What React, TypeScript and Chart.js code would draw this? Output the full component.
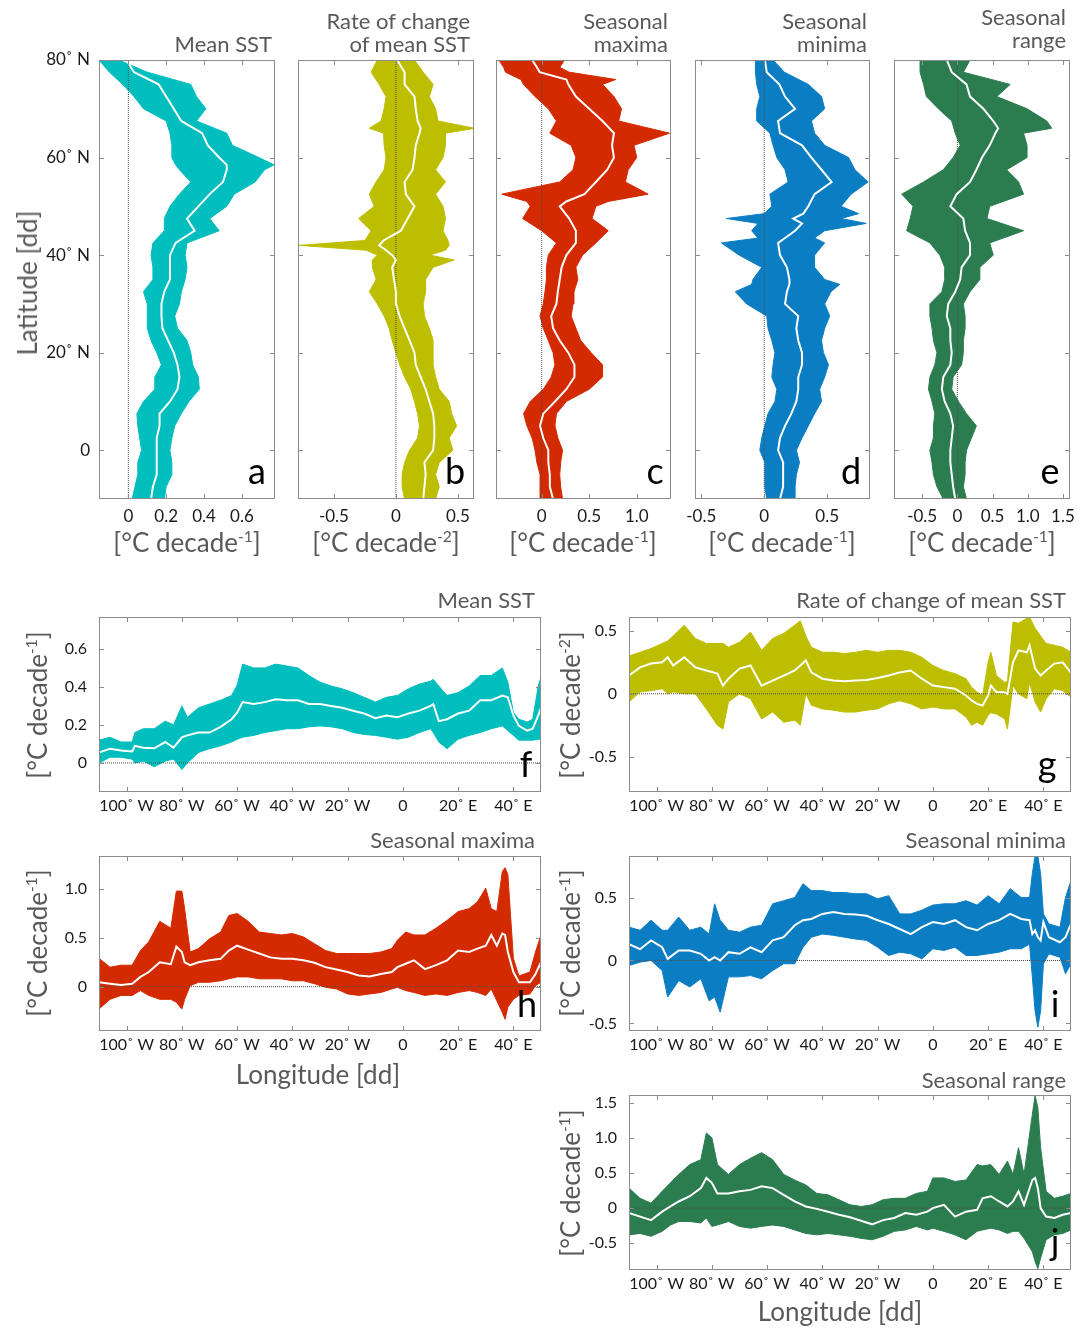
import React, { useEffect, useRef } from "react";
import { Chart, registerables } from "chart.js";
Chart.register(...registerables);

const FONT = "Lato, 'Open Sans', sans-serif";

// ---------- Top row: latitude profiles (value vs latitude) ----------
const latA = [-10, -7.5, -5, -2.5, 0, 2.5, 5, 7.5, 10, 12.5, 15, 17.5, 20, 22.5, 25, 27.5, 30, 32.5, 35, 37.5, 40, 42.5, 45, 47.5, 50, 52.5, 55, 57.5, 58.5, 60, 62.5, 65, 67.5, 70, 72.5, 75, 77.5, 80];
const lowA = [0.02, 0.035, 0.05, 0.05, 0.07, 0.06, 0.05, 0.045, 0.08, 0.14, 0.14, 0.175, 0.15, 0.12, 0.1, 0.1, 0.1, 0.08, 0.13, 0.13, 0.12, 0.13, 0.19, 0.19, 0.22, 0.27, 0.33, 0.27, 0.25, 0.23, 0.23, 0.22, 0.2, 0.08, 0.03, -0.03, -0.1, -0.155];
const medA = [0.12, 0.13, 0.15, 0.15, 0.15, 0.15, 0.165, 0.165, 0.22, 0.26, 0.27, 0.26, 0.24, 0.21, 0.18, 0.175, 0.175, 0.19, 0.22, 0.22, 0.22, 0.25, 0.35, 0.31, 0.37, 0.43, 0.5, 0.52, 0.52, 0.48, 0.42, 0.39, 0.28, 0.24, 0.2, 0.16, 0.03, -0.01];
const upA = [0.19, 0.2, 0.23, 0.23, 0.22, 0.23, 0.245, 0.28, 0.32, 0.375, 0.37, 0.34, 0.33, 0.31, 0.26, 0.245, 0.27, 0.28, 0.3, 0.31, 0.3, 0.31, 0.48, 0.43, 0.52, 0.56, 0.67, 0.72, 0.77, 0.69, 0.55, 0.52, 0.36, 0.41, 0.36, 0.33, 0.1, -0.05];

const latB = [-10, -7.5, -5, -2.5, 0, 2.5, 5, 7.5, 10, 12.5, 15, 17.5, 20, 22.5, 25, 27.5, 30, 32.5, 35, 37.5, 39, 40, 41, 42, 43, 45, 47.5, 50, 52.5, 55, 57.5, 60, 62.5, 65, 66, 67.5, 70, 72.5, 75, 77.5, 80];
const lowB = [0.07, 0.05, 0.05, 0.07, 0.11, 0.175, 0.19, 0.175, 0.15, 0.12, 0.07, 0.03, 0.0, -0.03, -0.055, -0.095, -0.15, -0.215, -0.16, -0.19, -0.19, -0.15, -0.24, -0.78, -0.25, -0.2, -0.3, -0.175, -0.215, -0.16, -0.095, -0.08, -0.095, -0.1, -0.215, -0.12, -0.095, -0.08, -0.135, -0.2, -0.15];
const medB = [0.22, 0.23, 0.24, 0.23, 0.3, 0.31, 0.31, 0.3, 0.27, 0.24, 0.2, 0.16, 0.15, 0.11, 0.07, 0.03, 0.0, 0.0, -0.015, -0.03, 0.0, -0.03, -0.08, -0.135, -0.1, 0.04, 0.095, 0.15, 0.08, 0.07, 0.135, 0.15, 0.16, 0.19, 0.2, 0.175, 0.16, 0.15, 0.07, 0.07, 0.01];
const upB = [0.32, 0.35, 0.32, 0.35, 0.46, 0.43, 0.49, 0.45, 0.43, 0.35, 0.32, 0.3, 0.3, 0.3, 0.27, 0.23, 0.22, 0.24, 0.24, 0.3, 0.47, 0.27, 0.4, 0.43, 0.42, 0.38, 0.4, 0.38, 0.32, 0.4, 0.32, 0.38, 0.4, 0.4, 0.635, 0.34, 0.32, 0.27, 0.3, 0.22, 0.15];

const latC = [-10, -7.5, -5, -2.5, 0, 2.5, 5, 7.5, 10, 12.5, 15, 17.5, 20, 22.5, 25, 27.5, 30, 32.5, 35, 37.5, 40, 42.5, 45, 47.5, 50, 51, 52.5, 55, 57.5, 60, 62.5, 65, 67.5, 70, 72.5, 75, 76, 77.5, 78.5, 80];
const lowC = [-0.017, -0.017, -0.017, -0.05, -0.07, -0.1, -0.155, -0.19, -0.12, 0.017, 0.1, 0.14, 0.12, 0.07, 0.017, -0.017, 0.017, 0.035, 0.05, 0.05, 0.07, 0.155, 0.0, -0.2, -0.12, -0.155, -0.42, 0.19, 0.33, 0.36, 0.31, 0.086, 0.155, 0.07, -0.07, -0.19, -0.22, -0.38, -0.4, -0.45];
const medC = [0.12, 0.086, 0.086, 0.07, 0.07, 0.017, -0.017, 0.017, 0.14, 0.26, 0.345, 0.345, 0.28, 0.19, 0.12, 0.1, 0.155, 0.17, 0.19, 0.21, 0.26, 0.36, 0.36, 0.29, 0.19, 0.26, 0.45, 0.57, 0.69, 0.76, 0.74, 0.76, 0.64, 0.5, 0.36, 0.28, 0.26, -0.02, -0.05, -0.1];
const upC = [0.22, 0.2, 0.19, 0.2, 0.22, 0.17, 0.14, 0.155, 0.26, 0.5, 0.64, 0.64, 0.52, 0.41, 0.36, 0.31, 0.33, 0.34, 0.38, 0.36, 0.43, 0.57, 0.7, 0.53, 0.57, 0.7, 1.12, 0.88, 0.91, 1.0, 0.97, 1.345, 0.81, 0.84, 0.76, 0.64, 0.78, 0.29, 0.19, 0.24];

const latD = [-10, -7.5, -5, -2.5, 0, 2.5, 5, 7.5, 10, 12.5, 15, 17.5, 20, 22.5, 25, 27.5, 30, 32.5, 34, 35, 37.5, 40, 42.5, 43.5, 45, 46.5, 47.5, 48.5, 50, 52.5, 55, 57.5, 60, 62.5, 65, 67.5, 70, 72.5, 75, 77.5, 80];
const lowD = [0.02, 0.005, 0.005, 0.005, -0.035, -0.02, 0.005, 0.03, 0.085, 0.1, 0.06, 0.07, 0.085, 0.06, 0.03, 0.02, -0.14, -0.23, -0.1, -0.09, -0.02, -0.2, -0.34, -0.05, -0.1, -0.05, -0.3, 0.0, 0.06, 0.045, 0.19, 0.165, 0.1, 0.07, 0.045, -0.06, -0.06, -0.035, -0.06, -0.07, -0.07];
const medD = [0.125, 0.15, 0.15, 0.15, 0.11, 0.125, 0.165, 0.215, 0.255, 0.27, 0.27, 0.3, 0.3, 0.27, 0.255, 0.27, 0.165, 0.18, 0.2, 0.2, 0.18, 0.125, 0.11, 0.165, 0.245, 0.3, 0.23, 0.31, 0.35, 0.4, 0.535, 0.455, 0.375, 0.3, 0.125, 0.11, 0.245, 0.165, 0.12, 0.02, 0.005];
const upD = [0.245, 0.245, 0.255, 0.28, 0.255, 0.3, 0.35, 0.4, 0.455, 0.44, 0.48, 0.51, 0.47, 0.455, 0.48, 0.52, 0.48, 0.53, 0.6, 0.48, 0.4, 0.4, 0.48, 0.4, 0.48, 0.81, 0.61, 0.75, 0.61, 0.69, 0.825, 0.72, 0.67, 0.48, 0.4, 0.375, 0.48, 0.455, 0.35, 0.16, 0.07];

const latE = [-10, -7.5, -5, -2.5, 0, 2.5, 5, 7.5, 10, 12.5, 15, 17.5, 20, 22.5, 25, 27.5, 30, 32.5, 35, 37.5, 40, 42.5, 45, 47.5, 50, 52.5, 55, 57.5, 60, 62.5, 65, 66, 67.5, 70, 72.5, 75, 77.5, 80];
const lowE = [-0.2, -0.29, -0.34, -0.36, -0.39, -0.34, -0.34, -0.32, -0.36, -0.41, -0.39, -0.32, -0.29, -0.34, -0.36, -0.39, -0.39, -0.22, -0.18, -0.18, -0.25, -0.39, -0.72, -0.67, -0.63, -0.79, -0.48, -0.2, -0.06, 0.04, -0.03, -0.05, -0.08, -0.27, -0.44, -0.48, -0.53, -0.53];
const medE = [-0.03, -0.06, -0.08, -0.1, -0.1, -0.08, -0.06, -0.1, -0.18, -0.22, -0.2, -0.1, -0.08, -0.1, -0.1, -0.15, -0.13, -0.03, 0.04, 0.06, 0.18, 0.18, 0.11, 0.085, -0.1, -0.01, 0.18, 0.27, 0.35, 0.46, 0.54, 0.58, 0.51, 0.37, 0.18, 0.13, -0.08, -0.15];
const upE = [0.13, 0.085, 0.11, 0.11, 0.13, 0.2, 0.27, 0.13, 0.015, -0.08, -0.06, 0.06, 0.085, 0.085, 0.11, 0.11, 0.085, 0.18, 0.32, 0.32, 0.51, 0.46, 0.94, 0.42, 0.46, 0.94, 0.87, 0.7, 0.99, 0.99, 0.94, 1.34, 1.27, 0.99, 0.56, 0.75, 0.085, 0.18];

// ---------- Bottom: longitude profiles (value vs longitude) ----------
const lonF = [-110, -106, -102, -98, -97, -94, -90, -86, -83, -80, -78, -74, -70, -66, -62, -60, -58, -54, -50, -46, -42, -38, -34, -30, -26, -22, -18, -14, -10, -6, -2, 2, 6, 10, 11, 13, 16, 20, 24, 28, 32, 36, 38, 40, 42, 45, 47, 49, 50];
const lowF = [0, 0.03, 0.03, 0.02, 0.0, 0.01, -0.02, 0.01, 0.02, -0.035, 0.0, 0.055, 0.075, 0.09, 0.11, 0.125, 0.135, 0.145, 0.16, 0.17, 0.18, 0.18, 0.19, 0.195, 0.19, 0.18, 0.16, 0.15, 0.145, 0.135, 0.125, 0.135, 0.16, 0.18, 0.16, 0.11, 0.075, 0.125, 0.145, 0.16, 0.18, 0.195, 0.17, 0.145, 0.12, 0.12, 0.12, 0.125, 0.125];
const medF = [0.055, 0.075, 0.065, 0.06, 0.09, 0.08, 0.077, 0.11, 0.08, 0.135, 0.145, 0.16, 0.16, 0.19, 0.23, 0.265, 0.32, 0.31, 0.32, 0.335, 0.33, 0.33, 0.31, 0.31, 0.3, 0.29, 0.275, 0.26, 0.235, 0.25, 0.24, 0.26, 0.275, 0.3, 0.31, 0.22, 0.23, 0.26, 0.275, 0.33, 0.33, 0.355, 0.345, 0.25, 0.195, 0.17, 0.18, 0.25, 0.29];
const upF = [0.12, 0.135, 0.11, 0.11, 0.16, 0.18, 0.18, 0.22, 0.2, 0.3, 0.24, 0.29, 0.31, 0.33, 0.355, 0.41, 0.52, 0.5, 0.5, 0.52, 0.51, 0.5, 0.46, 0.425, 0.405, 0.39, 0.37, 0.345, 0.32, 0.345, 0.355, 0.39, 0.415, 0.43, 0.44, 0.405, 0.355, 0.37, 0.405, 0.46, 0.46, 0.5, 0.425, 0.265, 0.23, 0.215, 0.23, 0.405, 0.45];

const lonG = [-110, -106, -102, -98, -96, -94, -90, -86, -82, -78, -76, -74, -70, -66, -62, -58, -54, -50, -48, -46, -44, -40, -36, -32, -28, -24, -20, -16, -12, -8, -4, 0, 4, 8, 12, 14, 16, 18, 20, 21, 23, 26, 27, 29, 31, 34, 35, 37, 39, 41, 44, 47, 50];
const lowG = [-0.065, 0.015, 0.025, 0.04, 0.0, 0.015, 0, 0, -0.12, -0.25, -0.28, -0.065, 0, -0.04, -0.2, -0.145, -0.225, -0.21, -0.25, 0, -0.09, -0.12, -0.13, -0.145, -0.145, -0.13, -0.12, -0.08, -0.055, -0.08, -0.12, -0.105, -0.12, -0.12, -0.185, -0.25, -0.225, -0.25, -0.17, -0.15, -0.16, -0.2, -0.28, 0.065, 0, -0.04, 0.09, -0.065, -0.145, -0.04, 0.04, 0.025, -0.027];
const medG = [0.145, 0.21, 0.24, 0.25, 0.29, 0.225, 0.29, 0.21, 0.185, 0.16, 0.065, 0.12, 0.2, 0.225, 0.065, 0.105, 0.145, 0.185, 0.225, 0.265, 0.17, 0.12, 0.105, 0.1, 0.105, 0.11, 0.125, 0.145, 0.17, 0.185, 0.12, 0.065, 0.053, 0.04, -0.013, -0.053, -0.08, -0.093, -0.013, 0.065, 0.013, 0.013, 0.0, 0.25, 0.345, 0.33, 0.385, 0.2, 0.145, 0.185, 0.24, 0.25, 0.167];
const upG = [0.3, 0.33, 0.36, 0.4, 0.42, 0.46, 0.545, 0.44, 0.4, 0.4, 0.4, 0.37, 0.41, 0.49, 0.345, 0.44, 0.48, 0.545, 0.58, 0.46, 0.37, 0.33, 0.33, 0.32, 0.33, 0.345, 0.33, 0.345, 0.345, 0.33, 0.29, 0.225, 0.185, 0.16, 0.12, 0.053, 0.013, -0.013, 0.25, 0.33, 0.145, 0.09, 0.1, 0.57, 0.56, 0.6, 0.61, 0.52, 0.46, 0.4, 0.385, 0.37, 0.33];

const lonH = [-110, -106, -102, -98, -95, -92, -88, -84, -82, -80, -79, -77, -74, -70, -66, -63, -60, -56, -52, -48, -44, -40, -36, -32, -28, -24, -20, -16, -12, -8, -4, -2, 1, 4, 8, 12, 16, 20, 24, 27, 30, 32, 34, 36, 37, 38, 40, 42, 46, 48, 50];
const lowH = [-0.23, -0.13, -0.09, -0.09, -0.04, -0.09, -0.13, -0.13, -0.16, -0.23, -0.13, 0.01, 0.045, 0.045, 0.06, 0.08, 0.1, 0.1, 0.08, 0.08, 0.08, 0.06, 0.06, 0.03, -0.007, -0.024, -0.075, -0.09, -0.075, -0.06, -0.024, -0.007, -0.04, -0.06, -0.09, -0.075, -0.09, -0.06, -0.04, -0.06, -0.09, -0.024, -0.145, -0.265, -0.335, -0.21, -0.13, -0.09, -0.075, 0.01, 0.045];
const medH = [0.045, 0.03, 0.017, 0.03, 0.1, 0.15, 0.25, 0.23, 0.41, 0.355, 0.25, 0.22, 0.25, 0.27, 0.285, 0.37, 0.42, 0.38, 0.34, 0.3, 0.285, 0.285, 0.27, 0.245, 0.2, 0.175, 0.15, 0.115, 0.105, 0.13, 0.15, 0.2, 0.235, 0.27, 0.18, 0.22, 0.27, 0.37, 0.355, 0.39, 0.42, 0.53, 0.42, 0.545, 0.53, 0.355, 0.15, 0.045, 0.045, 0.13, 0.25];
const upH = [0.29, 0.2, 0.22, 0.22, 0.37, 0.46, 0.67, 0.6, 0.98, 0.98, 0.8, 0.355, 0.39, 0.49, 0.56, 0.73, 0.75, 0.67, 0.56, 0.545, 0.53, 0.545, 0.51, 0.44, 0.37, 0.34, 0.34, 0.34, 0.34, 0.355, 0.39, 0.475, 0.56, 0.53, 0.53, 0.6, 0.68, 0.77, 0.8, 0.87, 1.01, 0.8, 0.77, 1.18, 1.22, 1.15, 0.29, 0.11, 0.15, 0.355, 0.53];

const lonI = [-110, -106, -102, -98, -96, -92, -88, -84, -81, -79, -77, -74, -70, -66, -62, -58, -54, -50, -47, -44, -40, -36, -32, -28, -24, -20, -16, -12, -8, -4, 0, 4, 8, 12, 16, 20, 24, 28, 32, 35, 36, 37, 38, 39, 40, 42, 46, 48, 50];
const lowI = [-0.04, -0.013, 0, -0.08, -0.29, -0.16, -0.21, -0.145, -0.32, -0.29, -0.41, -0.13, -0.13, -0.12, -0.145, -0.08, -0.026, -0.026, 0.105, 0.185, 0.21, 0.2, 0.185, 0.17, 0.16, 0.105, 0.04, 0.066, 0.053, 0.013, 0.093, 0.08, 0.105, 0.04, 0.04, 0.053, 0.066, 0.093, 0.093, 0.13, -0.13, -0.4, -0.53, -0.4, -0.026, 0.053, 0.026, -0.105, -0.026];
const medI = [0.13, 0.09, 0.16, 0.105, 0.013, 0.08, 0.08, 0.053, 0, 0.026, 0, 0.066, 0.053, 0.105, 0.066, 0.16, 0.185, 0.28, 0.32, 0.33, 0.37, 0.385, 0.37, 0.365, 0.355, 0.32, 0.29, 0.25, 0.21, 0.265, 0.305, 0.29, 0.32, 0.265, 0.24, 0.29, 0.32, 0.37, 0.33, 0.32, 0.21, 0.24, 0.185, 0.16, 0.305, 0.185, 0.145, 0.185, 0.29];
const upI = [0.265, 0.24, 0.32, 0.24, 0.24, 0.345, 0.24, 0.265, 0.21, 0.45, 0.32, 0.24, 0.225, 0.265, 0.28, 0.45, 0.475, 0.5, 0.61, 0.555, 0.555, 0.54, 0.54, 0.53, 0.53, 0.49, 0.515, 0.37, 0.37, 0.4, 0.44, 0.45, 0.45, 0.475, 0.44, 0.515, 0.45, 0.57, 0.5, 0.5, 0.69, 0.83, 0.83, 0.69, 0.37, 0.29, 0.265, 0.5, 0.635];

const lonJ = [-110, -106, -102, -98, -95, -92, -88, -84, -82, -80, -78, -74, -70, -66, -62, -58, -54, -50, -46, -42, -38, -34, -30, -26, -22, -18, -14, -10, -6, -2, 0, 4, 8, 12, 16, 18, 21, 24, 27, 29, 31, 33, 36, 37, 38, 39, 41, 44, 47, 50];
const lowJ = [-0.38, -0.36, -0.4, -0.33, -0.24, -0.19, -0.19, -0.21, -0.14, -0.26, -0.24, -0.19, -0.26, -0.285, -0.26, -0.24, -0.26, -0.31, -0.36, -0.38, -0.36, -0.38, -0.4, -0.43, -0.45, -0.4, -0.33, -0.31, -0.26, -0.31, -0.285, -0.33, -0.38, -0.45, -0.33, -0.31, -0.285, -0.31, -0.36, -0.33, -0.33, -0.43, -0.62, -0.76, -0.86, -0.71, -0.45, -0.38, -0.36, -0.31];
const medJ = [-0.07, -0.12, -0.17, -0.05, 0.024, 0.095, 0.17, 0.285, 0.43, 0.36, 0.21, 0.21, 0.24, 0.26, 0.31, 0.285, 0.19, 0.095, 0.024, -0.01, -0.05, -0.095, -0.13, -0.18, -0.23, -0.17, -0.14, -0.07, -0.095, -0.05, 0, 0.048, -0.12, -0.05, -0.024, 0.14, 0.17, 0.095, 0.024, 0.095, 0.24, 0.048, 0.4, 0.43, 0.285, 0, -0.12, -0.14, -0.095, -0.07];
const upJ = [0.285, 0.14, 0.07, 0.24, 0.36, 0.48, 0.62, 0.69, 1.07, 1.0, 0.62, 0.48, 0.62, 0.71, 0.79, 0.69, 0.48, 0.4, 0.33, 0.21, 0.19, 0.12, 0.048, 0.024, 0.048, 0.12, 0.14, 0.14, 0.21, 0.24, 0.43, 0.43, 0.38, 0.4, 0.62, 0.6, 0.62, 0.48, 0.67, 0.48, 0.86, 0.48, 1.33, 1.6, 1.43, 0.86, 0.24, 0.14, 0.17, 0.21];

// ---------- Tick values / labels ----------
const latTicks = [0, 20, 40, 60, 80];
const latTickLabels = ["0", "20˚ N", "40˚ N", "60˚ N", "80˚ N"];
const lonTicks = [-100, -80, -60, -40, -20, 0, 20, 40];
const lonTickLabels = ["100˚ W", "80˚ W", "60˚ W", "40˚ W", "20˚ W", "0", "20˚ E", "40˚ E"];
const ticksA = [0, 0.2, 0.4, 0.6];
const labelsA = ["0", "0.2", "0.4", "0.6"];
const ticksHalf = [-0.5, 0, 0.5];
const labelsHalf = ["-0.5", "0", "0.5"];
const ticksC = [0, 0.5, 1.0];
const labelsC = ["0", "0.5", "1.0"];
const ticksE = [-0.5, 0, 0.5, 1.0, 1.5];
const labelsE = ["-0.5", "0", "0.5", "1.0", "1.5"];

const CYAN = "#00BEBE";
const OLIVE = "#BEBE00";
const RED = "#D42A00";
const BLUE = "#0B7DC3";
const GREEN = "#2B7D50";

const PADT = 14;
const PADR = 16;
const BOTTOM_H = 34;

const framePlugin = {
  id: "frameTicks",
  afterDatasetsDraw(chart: any) {
    const { ctx, chartArea: a, scales } = chart;
    ctx.save();
    ctx.strokeStyle = "#8c8c8c";
    ctx.lineWidth = 1;
    ctx.strokeRect(Math.round(a.left) + 0.5, Math.round(a.top) + 0.5, Math.round(a.right - a.left) - 1, Math.round(a.bottom - a.top) - 1);
    const L = 5;
    ctx.beginPath();
    scales.x.ticks.forEach((t: any) => {
      const px = Math.round(scales.x.getPixelForValue(t.value)) + 0.5;
      ctx.moveTo(px, a.bottom); ctx.lineTo(px, a.bottom - L);
      ctx.moveTo(px, a.top); ctx.lineTo(px, a.top + L);
    });
    scales.y.ticks.forEach((t: any) => {
      const py = Math.round(scales.y.getPixelForValue(t.value)) + 0.5;
      ctx.moveTo(a.left, py); ctx.lineTo(a.left + L, py);
      ctx.moveTo(a.right, py); ctx.lineTo(a.right - L, py);
    });
    ctx.stroke();
    ctx.restore();
  },
};

function scaleCfg(min: number, max: number, ticks: number[], labels: string[] | null, isX: boolean, size: number, pad: number, fontSize: number) {
  return {
    type: "linear",
    min,
    max,
    afterBuildTicks: (s: any) => {
      s.ticks = ticks.map((v) => ({ value: v }));
    },
    afterFit: (s: any) => {
      if (isX) {
        s.height = size;
        s.paddingLeft = 0;
        s.paddingRight = 0;
      } else {
        s.width = size;
        s.paddingTop = 0;
        s.paddingBottom = 0;
      }
    },
    grid: { display: false, drawTicks: false },
    border: { display: false },
    ticks: {
      display: labels !== null,
      autoSkip: false,
      maxRotation: 0,
      minRotation: 0,
      padding: pad,
      color: "#1a1a1a",
      font: { family: FONT, size: fontSize },
      callback: (_v: any, i: number) => (labels ? labels[i] : ""),
    },
  };
}

type PanelProps = {
  frame: number[];
  vertical: boolean;
  pos: number[];
  low: number[];
  med: number[];
  up: number[];
  color: string;
  xMin: number; xMax: number; yMin: number; yMax: number;
  xTicks: number[]; xLabels: string[] | null;
  yTicks: number[]; yLabels: string[] | null;
  leftW: number;
  xPad: number; yPad: number; fontSize: number;
};

function Panel(p: PanelProps) {
  const ref = useRef<HTMLCanvasElement | null>(null);
  const [fl, ft, fw, fh] = p.frame;
  const cw = p.leftW + fw + PADR;
  const ch = PADT + fh + BOTTOM_H;
  useEffect(() => {
    const pts = (vals: number[]) => vals.map((v, i) => (p.vertical ? { x: v, y: p.pos[i] } : { x: p.pos[i], y: v }));
    const zero = p.vertical
      ? [{ x: 0, y: p.yMin }, { x: 0, y: p.yMax }]
      : [{ x: p.xMin, y: 0 }, { x: p.xMax, y: 0 }];
    const chart = new Chart(ref.current as HTMLCanvasElement, {
      type: "line",
      data: {
        datasets: [
          { data: pts(p.low), borderColor: p.color, backgroundColor: p.color, borderWidth: 1, pointRadius: 0, fill: false, order: 3, tension: 0 },
          { data: pts(p.up), borderColor: p.color, backgroundColor: p.color, borderWidth: 1, pointRadius: 0, fill: "-1", order: 2, tension: 0 },
          { data: zero, borderColor: "#4d4d4d", borderWidth: 1, borderDash: [1, 1], pointRadius: 0, fill: false, order: 1 },
          { data: pts(p.med), borderColor: "#ffffff", borderWidth: 2, pointRadius: 0, fill: false, order: 0, tension: 0 },
        ],
      } as any,
      options: {
        indexAxis: p.vertical ? "y" : "x",
        animation: false,
        responsive: false,
        maintainAspectRatio: false,
        events: [],
        layout: { padding: { top: PADT, right: PADR, left: 0, bottom: 0 } },
        plugins: {
          legend: { display: false },
          tooltip: { enabled: false },
          filler: { drawTime: "beforeDatasetsDraw" },
        },
        scales: {
          x: scaleCfg(p.xMin, p.xMax, p.xTicks, p.xLabels, true, BOTTOM_H, p.xPad, p.fontSize),
          y: scaleCfg(p.yMin, p.yMax, p.yTicks, p.yLabels, false, p.leftW, p.yPad, p.fontSize),
        },
      } as any,
      plugins: [framePlugin],
    });
    return () => chart.destroy();
  }, []);
  return (
    <canvas
      ref={ref}
      width={cw}
      height={ch}
      style={{ position: "absolute", left: fl - p.leftW, top: ft - PADT, width: cw, height: ch }}
    />
  );
}

function Txt({ x, y, size, color = "#595959", anchor = "center", rotate = false, children }: any) {
  const base: any = { position: "absolute", whiteSpace: "nowrap", fontFamily: FONT, fontSize: size, lineHeight: 1, color };
  if (rotate) {
    return <div style={{ ...base, left: x, top: y, transform: "translate(-50%,-50%) rotate(-90deg)" }}>{children}</div>;
  }
  const top = y - 0.887 * size;
  if (anchor === "right") return <div style={{ ...base, right: 1081 - x, top }}>{children}</div>;
  return <div style={{ ...base, left: x, top, transform: "translateX(-50%)" }}>{children}</div>;
}

const Sup = ({ children }: any) => (
  <span style={{ fontSize: "0.6em", position: "relative", top: "-0.65em" }}>{children}</span>
);

const unit1 = <>[°C decade<Sup>-1</Sup>]</>;
const unit2 = <>[°C decade<Sup>-2</Sup>]</>;

export default function App() {
  const V = (frame: number[], pos: number[], low: number[], med: number[], up: number[], color: string, xMin: number, xMax: number, xT: number[], xL: string[], showLat: boolean) => (
    <Panel frame={frame} vertical pos={pos} low={low} med={med} up={up} color={color}
      xMin={xMin} xMax={xMax} yMin={-10} yMax={80} xTicks={xT} xLabels={xL}
      yTicks={latTicks} yLabels={showLat ? latTickLabels : null} leftW={showLat ? 70 : 22}
      xPad={7} yPad={9} fontSize={17} />
  );
  const H = (frame: number[], pos: number[], low: number[], med: number[], up: number[], color: string, yMin: number, yMax: number, yT: number[], yL: string[]) => (
    <Panel frame={frame} vertical={false} pos={pos} low={low} med={med} up={up} color={color}
      xMin={-110} xMax={50} yMin={yMin} yMax={yMax} xTicks={lonTicks} xLabels={lonTickLabels}
      yTicks={yT} yLabels={yL} leftW={60} xPad={4} yPad={12} fontSize={16} />
  );
  return (
    <div style={{ position: "absolute", left: 0, top: 0, width: 1081, height: 1330, background: "#fff", overflow: "hidden", fontFamily: FONT }}>
      {V([99, 60, 176, 439], latA, lowA, medA, upA, CYAN, -0.155, 0.775, ticksA, labelsA, true)}
      {V([298, 60, 176, 439], latB, lowB, medB, upB, OLIVE, -0.79, 0.63, ticksHalf, labelsHalf, false)}
      {V([496, 60, 175, 439], latC, lowC, medC, upC, RED, -0.48, 1.36, ticksC, labelsC, false)}
      {V([695, 60, 175, 439], latD, lowD, medD, upD, BLUE, -0.55, 0.84, ticksHalf, labelsHalf, false)}
      {V([894, 60, 176, 439], latE, lowE, medE, upE, GREEN, -0.9, 1.6, ticksE, labelsE, false)}

      {H([99, 617, 442, 175], lonF, lowF, medF, upF, CYAN, -0.153, 0.768, ticksA, labelsA)}
      {H([629, 617, 442, 175], lonG, lowG, medG, upG, OLIVE, -0.78, 0.61, ticksHalf, labelsHalf)}
      {H([99, 856, 442, 175], lonH, lowH, medH, upH, RED, -0.455, 1.34, ticksC, labelsC)}
      {H([629, 856, 442, 175], lonI, lowI, medI, upI, BLUE, -0.56, 0.83, ticksHalf, labelsHalf)}
      {H([629, 1095, 442, 175], lonJ, lowJ, medJ, upJ, GREEN, -0.88, 1.61, ticksE, labelsE)}

      {/* top titles */}
      <Txt x={272} y={53} size={22} anchor="right">Mean SST</Txt>
      <Txt x={470} y={30} size={22} anchor="right">Rate of change</Txt>
      <Txt x={470} y={53} size={22} anchor="right">of mean SST</Txt>
      <Txt x={668} y={30} size={22} anchor="right">Seasonal</Txt>
      <Txt x={668} y={53} size={22} anchor="right">maxima</Txt>
      <Txt x={867} y={30} size={22} anchor="right">Seasonal</Txt>
      <Txt x={867} y={53} size={22} anchor="right">minima</Txt>
      <Txt x={1066} y={26} size={22} anchor="right">Seasonal</Txt>
      <Txt x={1066} y={49} size={22} anchor="right">range</Txt>

      {/* bottom titles */}
      <Txt x={535} y={609} size={22} anchor="right">Mean SST</Txt>
      <Txt x={1066} y={609} size={22} anchor="right">Rate of change of mean SST</Txt>
      <Txt x={535} y={849} size={22} anchor="right">Seasonal maxima</Txt>
      <Txt x={1066} y={849} size={22} anchor="right">Seasonal minima</Txt>
      <Txt x={1066} y={1089} size={22} anchor="right">Seasonal range</Txt>

      {/* top axis titles */}
      <Txt x={187} y={552} size={26}>{unit1}</Txt>
      <Txt x={386} y={552} size={26}>{unit2}</Txt>
      <Txt x={583} y={552} size={26}>{unit1}</Txt>
      <Txt x={782} y={552} size={26}>{unit1}</Txt>
      <Txt x={982} y={552} size={26}>{unit1}</Txt>
      <Txt x={27} y={283} size={26} rotate>Latitude [dd]</Txt>

      {/* bottom axis titles */}
      <Txt x={37} y={705} size={26} rotate>{unit1}</Txt>
      <Txt x={570} y={705} size={26} rotate>{unit2}</Txt>
      <Txt x={37} y={943} size={26} rotate>{unit1}</Txt>
      <Txt x={570} y={943} size={26} rotate>{unit1}</Txt>
      <Txt x={570} y={1183} size={26} rotate>{unit1}</Txt>
      <Txt x={318} y={1084} size={26}>Longitude [dd]</Txt>
      <Txt x={840} y={1321} size={26}>Longitude [dd]</Txt>

      {/* panel letters */}
      <Txt x={257} y={484} size={36} color="#000">a</Txt>
      <Txt x={455} y={484} size={36} color="#000">b</Txt>
      <Txt x={655} y={484} size={36} color="#000">c</Txt>
      <Txt x={851} y={484} size={36} color="#000">d</Txt>
      <Txt x={1050} y={484} size={36} color="#000">e</Txt>
      <Txt x={526} y={777} size={36} color="#000">f</Txt>
      <Txt x={1047} y={777} size={36} color="#000">g</Txt>
      <Txt x={527} y={1017} size={36} color="#000">h</Txt>
      <Txt x={1055} y={1017} size={36} color="#000">i</Txt>
      <Txt x={1055} y={1255} size={36} color="#000">j</Txt>
    </div>
  );
}
